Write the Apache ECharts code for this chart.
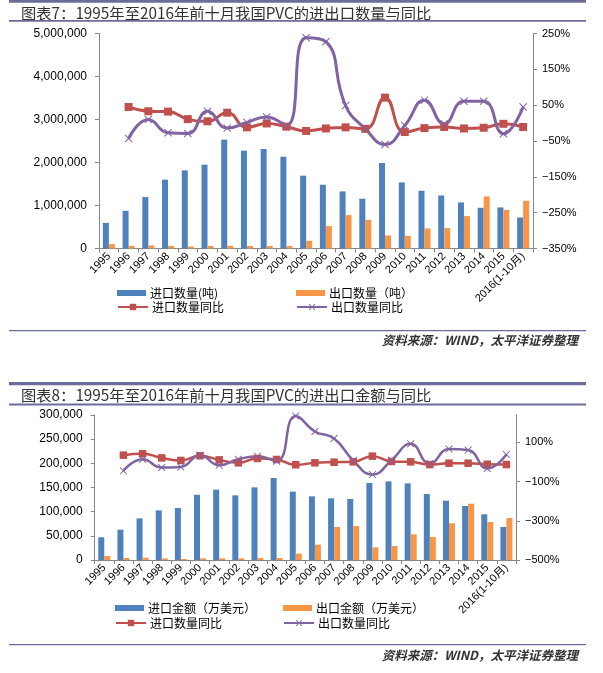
<!DOCTYPE html>
<html><head><meta charset="utf-8">
<script src="https://cdn.jsdelivr.net/npm/echarts@6/dist/echarts.min.js"></script>
<style>html,body{margin:0;padding:0;background:#fff}#c{width:603px;height:673px}</style>
</head><body><div id="c"></div>
<script>
// ---------- data ----------
const years = ['1995','1996','1997','1998','1999','2000','2001','2002','2003','2004','2005','2006','2007','2008','2009','2010','2011','2012','2013','2014','2015','2016(1-10月)'];

// Chart 7: quantity (tons) and YoY (%)
const importQty = [595000,877000,1196000,1600000,1817000,1949000,2531000,2275000,2314000,2135000,1693000,1483000,1328000,1157000,1988000,1537000,1343000,1234000,1071000,947000,955000,722000];
const exportQty = [100000,62000,70000,62000,47000,62000,62000,60000,60000,60000,179000,520000,776000,668000,303000,295000,466000,474000,753000,1211000,900000,1110000];
const importQtyYoY = [null,45,33,32,11,5,29,-12,-1,-10,-22,-15,-12,-16,71,-25,-14,-11,-15,-13,-2,-11];
const exportQtyYoY = [null,-43,10,-27,-29,33,-14,2,17,-7,238,227,49,-16,-60,-7,64,-2,61,61,-30,45];

// Chart 8: amount (10k USD) and YoY (%)
const importAmt = [47000,62700,86200,102700,107500,135000,145500,133800,150300,169600,141400,131700,127600,126200,159300,162700,158600,136500,122700,111700,94500,68300];
const exportAmt = [8300,4100,4800,3400,2100,3400,3400,3400,4100,4100,13100,31700,68300,70300,26200,29000,53100,47600,75900,116500,78600,86900];
const importYoY2 = [null,35,42,21,8,32,11,-4,18,13,-14,-4,-1,1,30,3,1,-13,-6,-6,-11,-13];
const exportYoY2 = [null,-45,14,-28,-25,35,-16,14,30,4,235,156,120,8,-64,9,93,-8,66,61,-33,38];

// axis ticks
const rightTicks1 = [-350,-250,-150,-50,50,150,250];
const rightTicks2 = [-500,-300,-100,100];

// ---------- styles ----------
const BLUE = '#4F81BD', ORANGE = '#F79646', RED = '#C0504D', PURPLE = '#8064A2';
const AXIS = '#868686', FRAME = '#6B6B9C';
const LATIN = '"Liberation Sans", Arial, "Noto Sans CJK SC", sans-serif';
const CJK = '"Noto Sans CJK SC", sans-serif';
const XSYM = 'path://M0,0.9L0.9,0L5,4.1L9.1,0L10,0.9L5.9,5L10,9.1L9.1,10L5,5.9L0.9,10L0,9.1L4.1,5Z';

const pct = v => (v < 0 ? '\u2212' + Math.abs(v) : v) + '%';
const thousands = v => v.toLocaleString('en-US');

function xAxis(gi) {
  return {
    type: 'category', gridIndex: gi, data: years, boundaryGap: true,
    axisLine: { lineStyle: { color: AXIS, width: 1 } },
    axisTick: { show: true, length: 4, lineStyle: { color: AXIS } },
    axisLabel: { rotate: 45, interval: 0, fontSize: 11, color: '#000', fontFamily: LATIN, margin: 6 }
  };
}
function leftAxis(gi, max, interval) {
  return {
    type: 'value', gridIndex: gi, position: 'left', min: 0, max: max, interval: interval,
    splitLine: { show: false },
    axisLine: { show: true, lineStyle: { color: AXIS } },
    axisTick: { show: true, length: 4, lineStyle: { color: AXIS } },
    axisLabel: { fontSize: 12, color: '#000', fontFamily: LATIN, margin: 12, formatter: thousands }
  };
}
function rightAxis(gi, min, max, ticks) {
  return {
    type: 'value', gridIndex: gi, position: 'right', min: min, max: max,
    splitLine: { show: false },
    axisLine: { show: true, lineStyle: { color: AXIS } },
    axisTick: { show: true, length: 4, lineStyle: { color: AXIS }, customValues: ticks },
    axisLabel: { fontSize: 11, color: '#000', fontFamily: LATIN, margin: 9, customValues: ticks, formatter: pct }
  };
}
function bar(name, data, color, xi, yi) {
  return { name, type: 'bar', xAxisIndex: xi, yAxisIndex: yi, data, barWidth: 6, barGap: '0%',
    itemStyle: { color }, z: 2 };
}
function line(name, data, color, symbol, size, width, xi, yi) {
  return { name, type: 'line', xAxisIndex: xi, yAxisIndex: yi, data, smooth: true,
    symbol, symbolSize: size, showSymbol: true,
    lineStyle: { color, width }, itemStyle: { color }, z: 5 };
}
function legend(name, left, top, icon, w, h) {
  const o = { data: [name], left, top, padding: 0, itemWidth: w, itemHeight: h, itemGap: 0,
    selectedMode: false,
    textStyle: { fontSize: 12, color: '#000', fontFamily: CJK, lineHeight: 14, padding: [0,0,0,-1] } };
  if (icon) o.icon = icon;
  return o;
}
function hline(x, y, w, h) {
  return { type: 'rect', shape: { x, y, width: w, height: h }, style: { fill: FRAME }, silent: true };
}
function text(str, x, y, font, align) {
  return { type: 'text', x, y, silent: true,
    style: { text: str, font, fill: '#333', align: align || 'left', verticalAlign: 'middle' } };
}

const chart = echarts.init(document.getElementById('c'), null, { renderer: 'canvas' });
chart.setOption({
  animation: false,
  backgroundColor: '#fff',
  grid: [
    { left: 99, top: 33.5, width: 434, height: 215, outerBoundsMode: 'none', containLabel: false },
    { left: 94.7, top: 415, width: 421.3, height: 145, outerBoundsMode: 'none', containLabel: false }
  ],
  xAxis: [xAxis(0), xAxis(1)],
  yAxis: [
    leftAxis(0, 5000000, 1000000),
    rightAxis(0, -350, 250, rightTicks1),
    leftAxis(1, 300000, 50000),
    rightAxis(1, -500, 240, rightTicks2)
  ],
  legend: [
    legend('进口数量(吨)', 117, 286, 'rect', 29, 6),
    legend('出口数量（吨）', 296, 286, 'rect', 29, 6),
    legend('进口数量同比', 117, 300, null, 30, 8),
    legend('出口数量同比', 296, 300, null, 30, 8),
    legend('进口金额（万美元）', 115, 601, 'rect', 29, 6),
    legend('出口金额（万美元）', 283, 601, 'rect', 29, 6),
    legend('进口数量同比', 115, 616, null, 30, 8),
    legend('出口数量同比', 283, 616, null, 30, 8)
  ],
  series: [
    bar('进口数量(吨)', importQty, BLUE, 0, 0),
    bar('出口数量（吨）', exportQty, ORANGE, 0, 0),
    line('进口数量同比', importQtyYoY, RED, 'rect', 8, 3, 0, 1),
    line('出口数量同比', exportQtyYoY, PURPLE, XSYM, 8, 3, 0, 1),
    bar('进口金额（万美元）', importAmt, BLUE, 1, 2),
    bar('出口金额（万美元）', exportAmt, ORANGE, 1, 2),
    line('进口数量同比', importYoY2, RED, 'rect', 7.5, 2.5, 1, 3),
    line('出口数量同比', exportYoY2, PURPLE, XSYM, 7.5, 2.5, 1, 3)
  ],
  graphic: [
    hline(9, 0, 577, 2.7),
    text('图表7：1995年至2016年前十月我国PVC的进出口数量与同比', 21, 13, '15.3px ' + CJK),
    hline(9, 20, 577, 1.8),
    hline(9, 330, 577, 1.2),
    text('资料来源：WIND，太平洋证券整理', 578, 340, 'italic bold 12.5px ' + CJK, 'right'),
    hline(9, 382, 577, 3.3),
    text('图表8：1995年至2016年前十月我国PVC的进出口金额与同比', 21, 395, '15.3px ' + CJK),
    hline(9, 403.5, 577, 2),
    hline(9, 644, 577, 1.2),
    text('资料来源：WIND，太平洋证券整理', 578, 655, 'italic bold 12.5px ' + CJK, 'right')
  ]
});
</script></body></html>
